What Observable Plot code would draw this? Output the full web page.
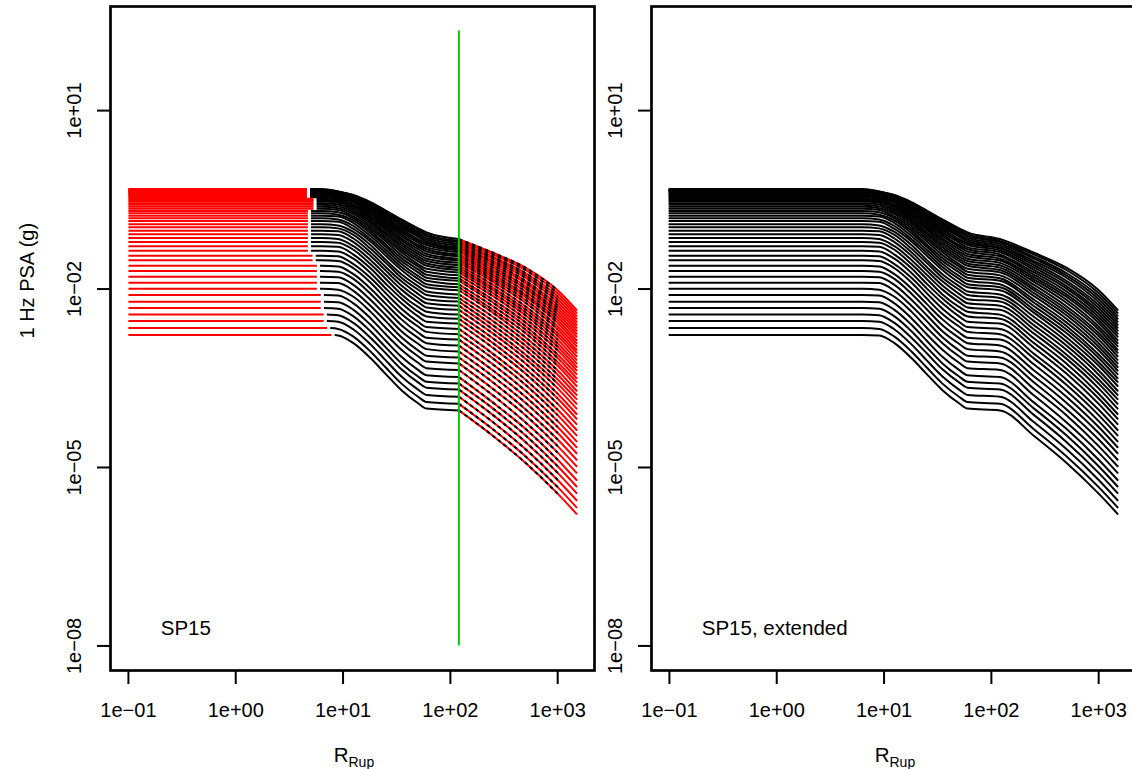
<!DOCTYPE html>
<html><head><meta charset="utf-8">
<script src="https://cdn.jsdelivr.net/npm/d3@7"></script>
<script src="https://cdn.jsdelivr.net/npm/@observablehq/plot@0.6"></script>
<style>
html,body{margin:0;padding:0;background:#fff;}
#wrap{position:relative;width:1132px;height:769px;overflow:hidden;background:#fff;}
#left,#right{position:absolute;top:0;width:600px;height:769px;}
#left{left:0;} #right{left:541px;}
#wrap svg{max-width:none !important;}
</style></head><body><div id="wrap"><div id="left"></div><div id="right"></div></div>
<script>
// distances (km) at which each curve was read
const rrupKm = [0.1, 6.3, 9, 12.5, 18, 25, 35, 50, 60, 120, 250, 500, 1000, 1500];
// log10 of 1 Hz PSA (g), one row per curve (bottom curve first)
const logPsaByCurve = [
[-2.774,-2.774,-2.78,-2.91,-3.16,-3.43,-3.70,-3.92,-4.01,-4.04,-4.47,-4.92,-5.44,-5.78],
[-2.657,-2.657,-2.67,-2.80,-3.05,-3.32,-3.59,-3.81,-3.90,-3.93,-4.36,-4.81,-5.33,-5.67],
[-2.539,-2.539,-2.55,-2.68,-2.93,-3.20,-3.47,-3.69,-3.78,-3.81,-4.24,-4.69,-5.21,-5.55],
[-2.426,-2.426,-2.44,-2.57,-2.82,-3.08,-3.35,-3.57,-3.66,-3.69,-4.12,-4.57,-5.09,-5.43],
[-2.320,-2.320,-2.33,-2.46,-2.71,-2.98,-3.25,-3.47,-3.56,-3.59,-4.01,-4.46,-4.98,-5.32],
[-2.214,-2.214,-2.22,-2.35,-2.60,-2.87,-3.14,-3.36,-3.45,-3.48,-3.91,-4.35,-4.87,-5.21],
[-2.101,-2.101,-2.11,-2.24,-2.49,-2.76,-3.02,-3.24,-3.33,-3.36,-3.79,-4.24,-4.75,-5.09],
[-1.995,-1.995,-2.01,-2.13,-2.38,-2.65,-2.91,-3.13,-3.22,-3.25,-3.68,-4.12,-4.64,-4.98],
[-1.894,-1.894,-1.90,-2.03,-2.28,-2.54,-2.81,-3.03,-3.12,-3.15,-3.57,-4.02,-4.53,-4.87],
[-1.793,-1.793,-1.80,-1.93,-2.18,-2.44,-2.71,-2.92,-3.01,-3.05,-3.47,-3.91,-4.42,-4.76],
[-1.697,-1.697,-1.71,-1.83,-2.08,-2.34,-2.61,-2.82,-2.91,-2.95,-3.37,-3.81,-4.32,-4.66],
[-1.608,-1.608,-1.62,-1.75,-1.99,-2.25,-2.51,-2.73,-2.82,-2.85,-3.27,-3.71,-4.22,-4.56],
[-1.517,-1.517,-1.53,-1.65,-1.89,-2.16,-2.42,-2.63,-2.72,-2.76,-3.17,-3.61,-4.12,-4.46],
[-1.439,-1.439,-1.45,-1.58,-1.81,-2.07,-2.33,-2.55,-2.64,-2.67,-3.09,-3.52,-4.03,-4.37],
[-1.355,-1.355,-1.37,-1.49,-1.73,-1.99,-2.24,-2.46,-2.55,-2.58,-2.99,-3.42,-3.93,-4.27],
[-1.281,-1.281,-1.29,-1.42,-1.65,-1.91,-2.16,-2.38,-2.46,-2.50,-2.91,-3.34,-3.84,-4.18],
[-1.209,-1.209,-1.22,-1.34,-1.58,-1.83,-2.09,-2.30,-2.38,-2.43,-2.83,-3.25,-3.76,-4.10],
[-1.141,-1.141,-1.16,-1.28,-1.51,-1.76,-2.01,-2.22,-2.31,-2.35,-2.75,-3.17,-3.67,-4.01],
[-1.079,-1.079,-1.09,-1.21,-1.44,-1.69,-1.94,-2.15,-2.24,-2.28,-2.68,-3.10,-3.59,-3.93],
[-1.019,-1.019,-1.03,-1.15,-1.38,-1.63,-1.87,-2.08,-2.17,-2.21,-2.61,-3.02,-3.52,-3.85],
[-0.961,-0.961,-0.98,-1.09,-1.32,-1.56,-1.81,-2.01,-2.10,-2.15,-2.54,-2.95,-3.44,-3.78],
[-0.911,-0.911,-0.93,-1.04,-1.26,-1.51,-1.75,-1.95,-2.04,-2.09,-2.47,-2.88,-3.37,-3.71],
[-0.855,-0.855,-0.87,-0.99,-1.20,-1.44,-1.68,-1.89,-1.97,-2.02,-2.40,-2.81,-3.29,-3.63],
[-0.810,-0.810,-0.83,-0.94,-1.16,-1.39,-1.63,-1.83,-1.92,-1.97,-2.35,-2.74,-3.23,-3.56],
[-0.766,-0.766,-0.78,-0.89,-1.11,-1.34,-1.58,-1.78,-1.86,-1.92,-2.29,-2.68,-3.16,-3.50],
[-0.726,-0.726,-0.75,-0.85,-1.06,-1.29,-1.53,-1.72,-1.81,-1.86,-2.23,-2.62,-3.10,-3.43],
[-0.687,-0.687,-0.71,-0.81,-1.02,-1.25,-1.48,-1.67,-1.76,-1.82,-2.18,-2.56,-3.03,-3.37],
[-0.650,-0.650,-0.67,-0.78,-0.98,-1.20,-1.43,-1.62,-1.71,-1.77,-2.12,-2.50,-2.97,-3.31],
[-0.616,-0.616,-0.64,-0.74,-0.94,-1.16,-1.38,-1.58,-1.66,-1.72,-2.07,-2.44,-2.91,-3.25],
[-0.584,-0.584,-0.61,-0.71,-0.90,-1.12,-1.34,-1.53,-1.61,-1.68,-2.02,-2.39,-2.85,-3.19],
[-0.556,-0.556,-0.58,-0.68,-0.87,-1.08,-1.30,-1.49,-1.57,-1.64,-1.98,-2.34,-2.79,-3.13],
[-0.529,-0.529,-0.55,-0.65,-0.84,-1.05,-1.26,-1.45,-1.53,-1.60,-1.93,-2.29,-2.74,-3.07],
[-0.503,-0.503,-0.53,-0.62,-0.81,-1.01,-1.22,-1.41,-1.49,-1.56,-1.88,-2.23,-2.68,-3.02],
[-0.480,-0.480,-0.51,-0.60,-0.78,-0.98,-1.18,-1.37,-1.45,-1.52,-1.84,-2.18,-2.63,-2.96],
[-0.458,-0.458,-0.49,-0.58,-0.75,-0.95,-1.15,-1.33,-1.41,-1.49,-1.80,-2.13,-2.57,-2.91],
[-0.438,-0.438,-0.47,-0.55,-0.73,-0.92,-1.11,-1.29,-1.37,-1.45,-1.76,-2.09,-2.52,-2.86],
[-0.419,-0.419,-0.45,-0.53,-0.70,-0.89,-1.08,-1.26,-1.33,-1.42,-1.72,-2.04,-2.47,-2.80],
[-0.402,-0.402,-0.43,-0.52,-0.68,-0.86,-1.05,-1.22,-1.30,-1.38,-1.68,-1.99,-2.42,-2.75],
[-0.387,-0.387,-0.42,-0.50,-0.66,-0.83,-1.02,-1.19,-1.26,-1.35,-1.64,-1.95,-2.37,-2.70],
[-0.374,-0.374,-0.41,-0.48,-0.64,-0.81,-0.99,-1.16,-1.23,-1.32,-1.60,-1.90,-2.32,-2.65],
[-0.362,-0.362,-0.40,-0.47,-0.62,-0.79,-0.96,-1.12,-1.20,-1.30,-1.56,-1.86,-2.27,-2.60],
[-0.352,-0.352,-0.39,-0.46,-0.60,-0.76,-0.93,-1.10,-1.17,-1.27,-1.53,-1.81,-2.22,-2.55],
[-0.342,-0.342,-0.38,-0.45,-0.58,-0.74,-0.91,-1.07,-1.14,-1.24,-1.49,-1.77,-2.17,-2.50],
[-0.333,-0.333,-0.37,-0.44,-0.57,-0.72,-0.88,-1.04,-1.11,-1.21,-1.46,-1.73,-2.12,-2.45],
[-0.325,-0.325,-0.36,-0.43,-0.55,-0.70,-0.85,-1.01,-1.08,-1.19,-1.42,-1.68,-2.07,-2.40],
[-0.318,-0.318,-0.36,-0.42,-0.54,-0.68,-0.83,-0.98,-1.05,-1.16,-1.39,-1.64,-2.02,-2.35]
];
// distance (km) where each curve's red near-source segment ends
const rMinKm = [7.8,7.1,6.6,6.6,6.2,6.2,6.2,5.7,5.7,5.7,5.7,5.7,5.2,5.2,
  4.7,4.7,4.7,4.7,4.7,4.7,4.7,4.7,4.7,4.7,4.7,4.7,4.7,
  5.3,5.3,5.3,5.3,5.3,5.3,5.3,
  4.6,4.6,4.6,4.6,4.6,4.6,4.6,4.6,4.6,4.6,4.6,4.6];
// distance (km) where each curve's black segment resumes after the red one
const rBlackStartKm = rMinKm.map(r => r * 1.07);
const validLimitKm = 120;
const blackLimitKm = 1000;
const greenLine = [{rrup: 120, low: 1e-8, high: 217}];
const xTicks = [0.1, 1, 10, 100, 1000];
const xTickLabels = ["1e\u221201", "1e+00", "1e+01", "1e+02", "1e+03"];
const yTicks = [1e-8, 1e-5, 1e-2, 10];
const yTickLabels = ["1e\u221208", "1e\u221205", "1e\u221202", "1e+01"];
const panelLabels = ["SP15", "SP15, extended"];
const panelLabelPos = [{rrup: 0.2, psa: 2e-8}];
const yTitle = "1 Hz PSA (g)";
const xTitleMain = "R", xTitleSub = "Rup";

const full = [], nearRed = [], midBlack = [], farRed = [], farBlack = [];
logPsaByCurve.forEach((vals, i) => {
  const rmin = rMinKm[i], rb = rBlackStartKm[i];
  const p0 = 10 ** vals[0];
  nearRed.push({c: i, r: rrupKm[0], p: p0}, {c: i, r: rmin, p: p0});
  midBlack.push({c: i, r: rb, p: 10 ** vals[1]});
  vals.forEach((v, j) => {
    const r = rrupKm[j], p = 10 ** v;
    full.push({c: i, r, p});
    if (r > rb && r <= validLimitKm) midBlack.push({c: i, r, p});
    if (r >= validLimitKm) farRed.push({c: i, r, p});
    if (r >= validLimitKm && r <= blackLimitKm) farBlack.push({c: i, r, p});
  });
});

const FONT = "'Liberation Sans', Arial, Helvetica, sans-serif";
function panel(isLeft) {
  const lineOpts = {x: "r", y: "p", z: "c", strokeWidth: 2, curve: "monotone-x"};
  const marks = [];
  if (isLeft) {
    marks.push(Plot.line(midBlack, {...lineOpts, stroke: "black", strokeLinecap: "butt"}));
    marks.push(Plot.line(farRed, {...lineOpts, stroke: "#ff0000"}));
    marks.push(Plot.line(farBlack, {...lineOpts, stroke: "black", strokeDasharray: "3.5,3.5", strokeLinecap: "butt"}));
    marks.push(Plot.line(nearRed, {...lineOpts, stroke: "#ff0000", curve: "linear", strokeLinecap: "butt"}));
    marks.push(Plot.ruleX(greenLine, {x: "rrup", y1: "low", y2: "high", stroke: "#00cd00", strokeWidth: 2}));
    marks.push(Plot.text([yTitle], {frameAnchor: "left", text: d => d, rotate: -90, dx: -77, fontSize: 20, lineAnchor: "bottom"}));
  } else {
    marks.push(Plot.line(full, {...lineOpts, stroke: "black"}));
  }
  marks.push(
    Plot.frame({stroke: "black", strokeWidth: 2.7}),
    Plot.axisX(xTicks, {tickFormat: d => xTickLabels[xTicks.indexOf(d)], tickSize: 14, tickPadding: 18.5, fontSize: 20, strokeWidth: 2, label: null}),
    Plot.axisY(yTicks, {tickFormat: d => yTickLabels[yTicks.indexOf(d)], tickRotate: -90, tickSize: 13, tickPadding: 17, fontSize: 20, strokeWidth: 2, label: null}),
    Plot.text(panelLabelPos, {x: "rrup", y: "psa", text: () => panelLabels[isLeft ? 0 : 1], textAnchor: "start", fontSize: 20.5}),
    Plot.text([xTitleMain], {frameAnchor: "bottom", text: d => d, dx: -4, dy: 91.7, textAnchor: "end", lineAnchor: "bottom", fontSize: 20.5}),
    Plot.text([xTitleSub], {frameAnchor: "bottom", text: d => d, dx: -4, dy: 96.5, textAnchor: "start", lineAnchor: "bottom", fontSize: 14})
  );
  return Plot.plot({
    width: 600, height: 769,
    marginLeft: 110, marginRight: 6, marginTop: 6, marginBottom: 99,
    x: {type: "log", domain: [10 ** -1.167, 10 ** 3.343]},
    y: {type: "log", domain: [10 ** -8.413, 10 ** 2.75]},
    style: {fontFamily: FONT, fontSize: "20px", background: "transparent", color: "black", overflow: "visible", maxWidth: "none"},
    marks
  });
}
document.getElementById("left").appendChild(panel(true));
document.getElementById("right").appendChild(panel(false));
</script>
</body></html>
